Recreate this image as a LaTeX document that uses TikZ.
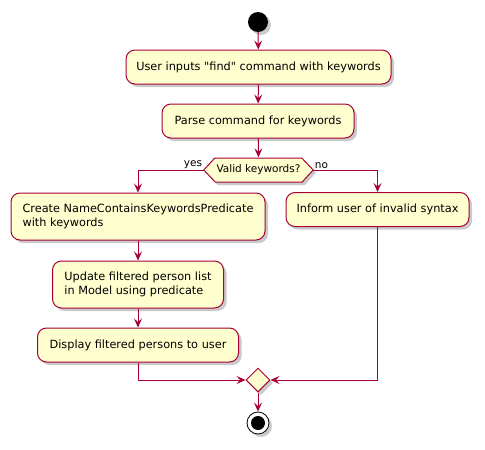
\documentclass[tikz,border=0pt]{standalone}
\usepackage{fontspec}
\newfontfamily\umlfont{DejaVu Sans}
\usetikzlibrary{arrows.meta,shadows,shapes.geometric}
\definecolor{umlfill}{HTML}{FEFECE}
\definecolor{umlline}{HTML}{A80036}
\begin{document}
\begin{tikzpicture}[x=1pt,y=-1pt,
  font=\umlfont\fontsize{11.3}{14}\selectfont,
  shad/.style={drop shadow={shadow xshift=3pt,shadow yshift=-3pt,opacity=0.35,fill=black!60}},
  act/.style={draw=umlline,line width=1pt,fill=umlfill,rounded corners=9pt,shad,
    minimum height=34pt,inner xsep=9pt,align=left},
  flow/.style={draw=umlline,line width=1pt,-{Stealth[length=9pt,width=8pt,inset=3.5pt]}},
  lbl/.style={font=\umlfont\fontsize{10.5}{12}\selectfont,inner sep=1.5pt}]
\useasboundingbox (0,0) rectangle (485,450);
\node[circle,fill=black,minimum size=20pt,inner sep=0pt,shad] (start) at (258,22) {};
\node[act,minimum width=265pt] (b1) at (258.5,67) {User inputs "find" command with keywords};
\node[act,minimum width=192pt] (b2) at (258,121) {Parse command for keywords};
\node[inner sep=0pt,minimum width=109pt,minimum height=25pt] (dec) at (258.5,170) {};
\fill[black!60,opacity=0.35] ([shift={(3,3)}]dec.west) -- ++(11,-12) -- ++(87,0) -- ++(11,12) -- ++(-11,12) -- ++(-87,0) -- cycle;
\draw[umlline,line width=1pt,fill=umlfill] (dec.west) -- ++(11,-12) -- ++(87,0) -- (dec.east) -- ++(-11,12) -- ++(-87,0) -- cycle;
\node[font=\umlfont\fontsize{10.5}{12}\selectfont] at (dec) {Valid keywords?};
\node[act,minimum width=254pt,minimum height=47pt] (b3) at (138,216.5) {Create NameContainsKeywordsPredicate\\with keywords};
\node[act,minimum width=183pt] (b4) at (377.5,209.5) {Inform user of invalid syntax};
\node[act,minimum width=171pt,minimum height=47pt] (b5) at (138,284.5) {Update filtered person list\\in Model using predicate};
\node[act,minimum width=201pt] (b6) at (138,345) {Display filtered persons to user};
\node[diamond,draw=umlline,line width=1pt,fill=umlfill,minimum width=24pt,minimum height=24pt,inner sep=0pt,shad] (m) at (258,380) {};
\node[circle,draw=black,line width=0.8pt,fill=white,minimum size=22pt,inner sep=0pt,shad] (stop) at (258,423) {};
\node[circle,fill=black,minimum size=14pt,inner sep=0pt] (stopin) at (stop) {};
\draw[flow] (start) -- (b1);
\draw[flow] (b1) -- (b2);
\draw[flow] (b2) -- (dec.north);
\draw[flow] (dec.west) -| (b3.north);
\draw[flow] (dec.east) -| (b4.north);
\node[lbl,anchor=south east] (yes) at (dec.west) {yes};
\node[lbl,anchor=south west] (no) at (dec.east) {no};
\draw[flow] (b3) -- (b5);
\draw[flow] (b5) -- (b6);
\draw[flow] (b6.south) |- (m.west);
\draw[flow] (b4.south) |- (m.east);
\draw[flow] (m) -- (stop);
\end{tikzpicture}
\end{document}
